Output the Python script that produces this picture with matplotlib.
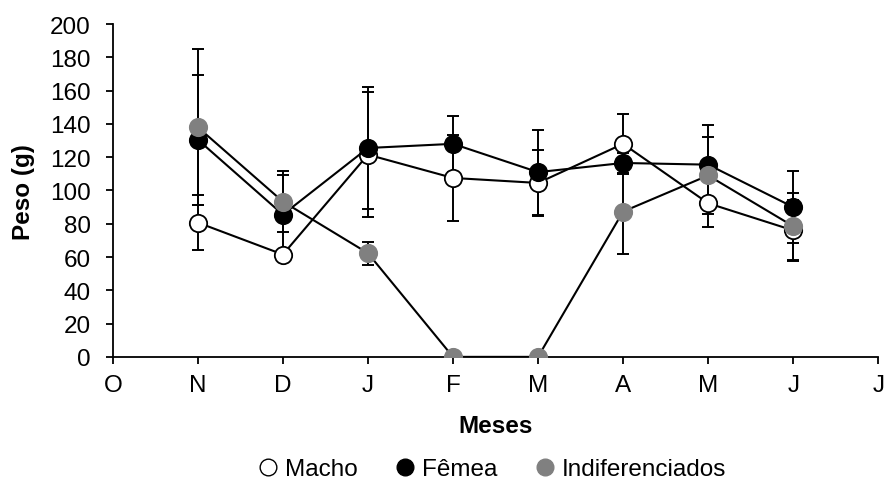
import matplotlib.pyplot as plt
import numpy as np
from matplotlib.lines import Line2D

plt.rcParams['font.family'] = ['Liberation Sans', 'DejaVu Sans']

# meses (O..J), dados de N a J
months = ['O', 'N', 'D', 'J', 'F', 'M', 'A', 'M', 'J', 'J']

macho = [80.7, 61.5, 121.5, 107.5, 104.5, 128.0, 92.3, 76.0]
macho_err = [16.5, 3.0, 37.5, 26.0, 20.0, 18.0, 14.0, 18.5]

femea = [130.5, 85.5, 125.5, 128.0, 111.0, 116.5, 115.5, 90.0]
femea_err = [39.0, 24.0, 36.5, 17.0, 25.5, 6.0, 24.0, 21.5]

indif = [138.0, 93.3, 62.3, 0.0, 0.0, 87.3, 109.0, 78.5]
indif_err = [47.0, 18.4, 7.0, 0.0, 0.0, 25.5, 23.0, 20.0]

x = np.arange(1, 9)

fig = plt.figure(figsize=(8.88, 4.81), dpi=100)
ax = fig.add_axes([0.127, 0.256, 0.862, 0.692])

series = [
    (macho, macho_err, 'white', 'Macho'),
    (femea, femea_err, 'black', 'Fêmea'),
    (indif, indif_err, '#808080', 'Indiferenciados'),
]

# barras de erro por baixo dos marcadores
for vals, err, col, lab in series:
    ax.errorbar(x, vals, yerr=err, fmt='none', ecolor='black', elinewidth=1.4,
                capsize=4.3, capthick=1.4, zorder=2)

for i, (vals, err, col, lab) in enumerate(series):
    ax.plot(x, vals, '-', color='black', lw=1.5, zorder=3 + i)
    ax.plot(x, vals, 'o', ms=12.5, mfc=col,
            mec='black' if col == 'white' else col, mew=1.3, zorder=3 + i)

ax.set_xlim(0, 9)
ax.set_ylim(0, 200)
ax.set_xticks(np.arange(len(months)))
ax.set_xticklabels(months)
ax.set_yticks(np.arange(0, 201, 20))
ax.spines['top'].set_visible(False)
ax.spines['right'].set_visible(False)
for s in ['left', 'bottom']:
    ax.spines[s].set_linewidth(1.3)
ax.tick_params(axis='both', direction='out', length=5, width=1.3, labelsize=17.5)
ax.tick_params(axis='x', pad=7)
ax.tick_params(axis='y', pad=11)

fig.text(0.558, 1 - 427 / 481, 'Meses', ha='center', va='center',
         fontsize=17.5, fontweight='bold')
fig.text(0.027, 1 - 192 / 481, 'Peso (g)', ha='center', va='center',
         rotation=90, fontsize=17.5, fontweight='bold')

handles = [
    Line2D([], [], ls='none', marker='o', ms=12, mfc='white', mec='black', mew=1.0),
    Line2D([], [], ls='none', marker='o', ms=12, mfc='black', mec='black'),
    Line2D([], [], ls='none', marker='o', ms=12, mfc='#808080', mec='#808080'),
]
fig.legend(handles, ['Macho', 'Fêmea', 'Indiferenciados'], loc='center',
           bbox_to_anchor=(0.551, 1 - 470 / 481), ncol=3, frameon=False,
           fontsize=17.5, handletextpad=0.05, columnspacing=1.3,
           handlelength=1.3, borderpad=0)

fig.savefig('out.png', dpi=100)
